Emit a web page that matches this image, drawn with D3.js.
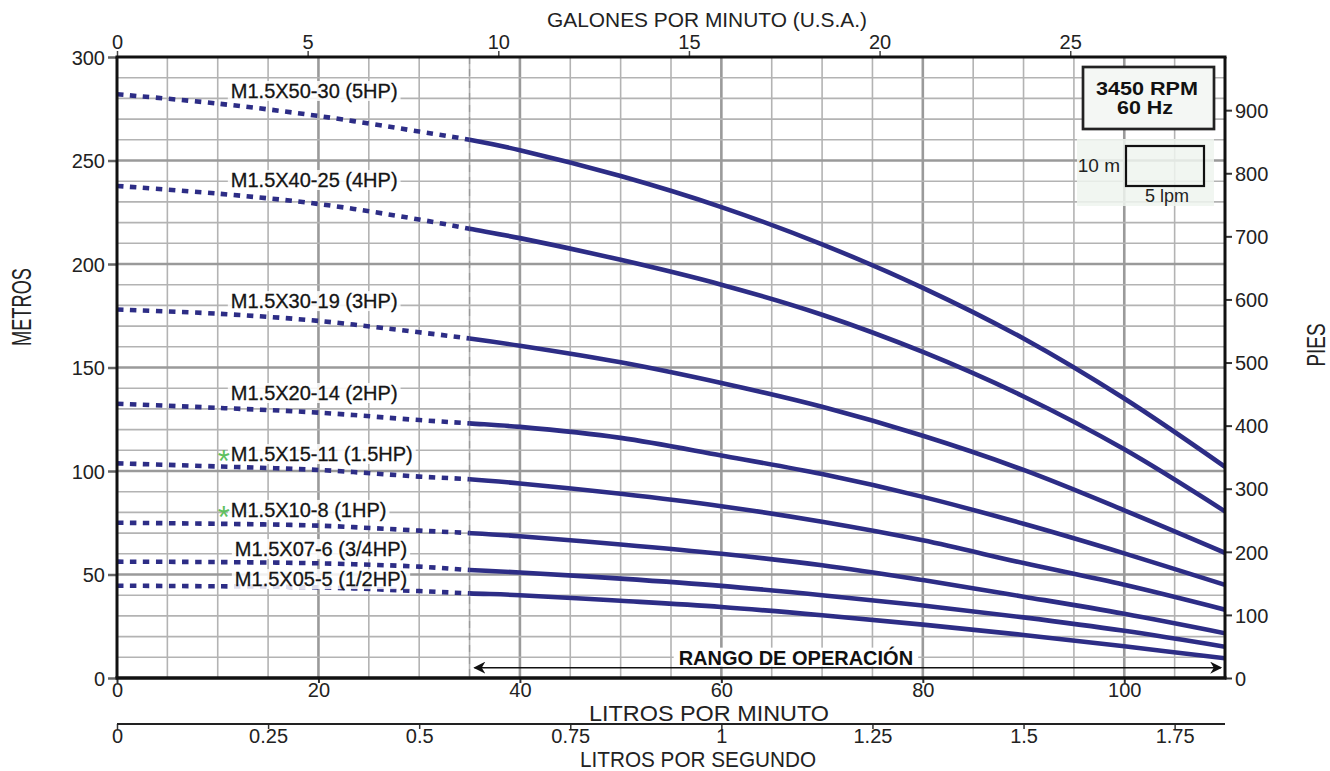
<!DOCTYPE html>
<html>
<head>
<meta charset="utf-8">
<script src="https://cdn.jsdelivr.net/npm/d3@7"></script>
<style>
  html, body { margin: 0; padding: 0; background: #fff; }
  svg { display: block; }
  text { font-family: "Liberation Sans", Arial, sans-serif; }
  .num { fill: #222; }
  .lbl { fill: #151515; stroke: #151515; stroke-width: 0.3; }
</style>
</head>
<body>
<svg id="chart" width="1330" height="771"></svg>
<script>
// ---------------- DATA ----------------
const flowLpm = [0, 10, 20, 30, 35, 40, 50, 60, 70, 80, 90, 100, 110];
const head_50_30 = [282, 277.5, 271.5, 264, 260, 255, 242.5, 227.5, 209.5, 188.5, 164, 135, 102];
const head_40_25 = [237.7, 234, 229, 221.5, 217, 212.5, 202, 190, 175.5, 157.5, 136, 110.5, 80.5];
const head_30_19 = [178, 176, 172.5, 167, 164, 160.5, 152.5, 142.5, 131, 117, 100.5, 81, 60.5];
const head_20_14 = [132.5, 130.5, 128.2, 124.6, 123, 121.3, 116, 107.5, 98.5, 87.5, 74.5, 60.2, 45];
const head_15_11 = [103.7, 102.2, 100.5, 97.3, 96, 94, 89, 83, 75.5, 66.5, 55.5, 45, 33];
const head_10_8  = [75, 74.5, 73.6, 71.2, 70, 68.5, 64.5, 60, 54.5, 47.3, 39.3, 31, 21.6];
const head_07_6  = [56.2, 56, 55.4, 53.8, 52.2, 51, 48, 44.5, 40, 35, 29.3, 22.8, 15.1];
const head_05_5  = [44.6, 44.3, 43.8, 42, 40.9, 40, 37.3, 34.3, 30.3, 25.8, 20.8, 15.3, 9.5];

const seriesNames = ["M1.5X50-30 (5HP)", "M1.5X40-25 (4HP)", "M1.5X30-19 (3HP)", "M1.5X20-14 (2HP)",
                     "M1.5X15-11 (1.5HP)", "M1.5X10-8 (1HP)", "M1.5X07-6 (3/4HP)", "M1.5X05-5 (1/2HP)"];
const seriesHeads = [head_50_30, head_40_25, head_30_19, head_20_14, head_15_11, head_10_8, head_07_6, head_05_5];
const seriesStar  = [false, false, false, false, true, true, false, false];
// label anchor positions (baseline) in data units (lpm, metres)
const labelFlow = [11.3, 11.3, 11.3, 11.3, 11.3, 11.3, 11.7, 11.7];
const labelHead = [280.2, 237.2, 178.7, 134.3, 104.8, 77.8, 58.9, 44.4];

const metreTicks = [0, 50, 100, 150, 200, 250, 300];
const feetTicks  = [0, 100, 200, 300, 400, 500, 600, 700, 800, 900];
const lpmTicks   = [0, 20, 40, 60, 80, 100];
const gpmTicks   = [0, 5, 10, 15, 20, 25];
const lpsTicks   = [0, 0.25, 0.5, 0.75, 1, 1.25, 1.5, 1.75];
const lpsLabels  = ["0", "0.25", "0.5", "0.75", "1", "1.25", "1.5", "1.75"];
const operatingStart = 35; // lpm
const flowMax = 110, headMax = 300;

// ---------------- SCALES ----------------
const svg = d3.select("#chart");
const L = 117, R = 1225, T = 57, B = 678;
const x = d3.scaleLinear().domain([0, flowMax]).range([L, R]);
const y = d3.scaleLinear().domain([0, headMax]).range([B, T]);
const xg = d3.scaleLinear().domain([0, flowMax / 3.785411784]).range([L, R]);
const xs = d3.scaleLinear().domain([0, flowMax / 60]).range([L, R]);
const yf = d3.scaleLinear().domain([0, headMax / 0.3048]).range([B, T]);

// ---------------- GRID ----------------
const grid = svg.append("g");
grid.selectAll("line.vx").data(d3.range(5, flowMax, 5)).join("line")
  .attr("x1", d => x(d)).attr("x2", d => x(d)).attr("y1", T).attr("y2", B)
  .attr("stroke", d => d % 20 === 0 ? "#9a9a9a" : "#b3b3b3")
  .attr("stroke-width", d => d % 20 === 0 ? 2.6 : 1.6);
grid.selectAll("line.hy").data(d3.range(10, headMax, 10)).join("line")
  .attr("x1", L).attr("x2", R).attr("y1", d => y(d)).attr("y2", d => y(d))
  .attr("stroke", d => d % 50 === 0 ? "#9a9a9a" : "#b3b3b3")
  .attr("stroke-width", d => d % 50 === 0 ? 2.6 : 1.6);

// operating range divider
svg.append("line").attr("x1", x(operatingStart)).attr("x2", x(operatingStart))
  .attr("y1", T).attr("y2", B).attr("stroke", "#999").attr("stroke-width", 1.3)
  .attr("stroke-dasharray", "7,5");

// ---------------- CURVES ----------------
const defs = svg.append("defs");
defs.append("clipPath").attr("id", "clipDot").append("rect")
  .attr("x", L).attr("y", 0).attr("width", x(operatingStart) - L).attr("height", 771);
defs.append("clipPath").attr("id", "clipSolid").append("rect")
  .attr("x", x(operatingStart)).attr("y", 0).attr("width", R - x(operatingStart)).attr("height", 771);

const line = d3.line().x(d => x(d[0])).y(d => y(d[1])).curve(d3.curveCatmullRom.alpha(0.5));
const curveColor = "#2d2d86";
seriesHeads.forEach(h => {
  const pts = flowLpm.map((f, i) => [f, h[i]]);
  svg.append("path").attr("d", line(pts)).attr("fill", "none")
    .attr("stroke", curveColor).attr("stroke-width", 4.6)
    .attr("stroke-dasharray", "6.5,6.5").attr("clip-path", "url(#clipDot)");
  svg.append("path").attr("d", line(pts)).attr("fill", "none")
    .attr("stroke", curveColor).attr("stroke-width", 4.6)
    .attr("clip-path", "url(#clipSolid)");
});

// ---------------- CURVE LABELS ----------------
seriesNames.forEach((name, i) => {
  const g = svg.append("g");
  const t = g.append("text").attr("class", "lbl")
    .attr("x", x(labelFlow[i])).attr("y", y(labelHead[i]))
    .attr("font-size", 20).text(name);
  const bb = t.node().getBBox();
  g.insert("rect", "text").attr("x", bb.x - 3).attr("y", bb.y + 1)
    .attr("width", bb.width + 6).attr("height", bb.height - 2)
    .attr("fill", "#fff").attr("fill-opacity", 0.85);
  if (seriesStar[i]) {
    g.append("text").attr("x", bb.x - 1).attr("y", y(labelHead[i]) + 11)
      .attr("text-anchor", "end").attr("font-size", 31)
      .attr("fill", "#5fc05f").text("*");
  }
});

// ---------------- RANGE ARROW ----------------
const arrowY = y(5);
defs.append("marker").attr("id", "ah").attr("viewBox", "0 0 10 10")
  .attr("refX", 9).attr("refY", 5).attr("markerWidth", 12).attr("markerHeight", 12)
  .attr("markerUnits", "userSpaceOnUse").attr("orient", "auto-start-reverse")
  .append("path").attr("d", "M0,0 L10,5 L0,10 L3,5 Z").attr("fill", "#111");
svg.append("line").attr("x1", x(operatingStart) + 5).attr("x2", R - 4)
  .attr("y1", arrowY).attr("y2", arrowY).attr("stroke", "#111").attr("stroke-width", 1.5)
  .attr("marker-start", "url(#ah)").attr("marker-end", "url(#ah)");
{
  const g = svg.append("g");
  const t = g.append("text").attr("x", x(67.4)).attr("y", arrowY - 3)
    .attr("text-anchor", "middle").attr("font-size", 20).attr("font-weight", "bold")
    .attr("fill", "#111").text("RANGO DE OPERACIÓN");
  const bb = t.node().getBBox();
  g.insert("rect", "text").attr("x", bb.x - 5).attr("y", bb.y + 2)
    .attr("width", bb.width + 10).attr("height", bb.height - 4).attr("fill", "#fff");
}

// ---------------- AXES ----------------
function styleAxis(g, tickColor, tickW) {
  g.select(".domain").remove();
  g.selectAll(".tick line").attr("stroke", tickColor).attr("stroke-width", tickW);
  g.selectAll(".tick text").attr("class", "num").attr("font-size", 20).attr("font-family", null).style("fill", "#222");
}
const axL = svg.append("g").attr("transform", `translate(${L},0)`)
  .call(d3.axisLeft(y).tickValues(metreTicks).tickSize(9).tickPadding(3).tickFormat(d3.format("d")));
styleAxis(axL, "#666", 2.5);
axL.selectAll(".tick text").attr("dy", "0.36em");

const axR = svg.append("g").attr("transform", `translate(${R},0)`)
  .call(d3.axisRight(yf).tickValues(feetTicks).tickSize(7).tickPadding(3).tickFormat(d3.format("d")));
styleAxis(axR, "#333", 2);
axR.selectAll(".tick text").attr("dy", "0.36em");

const axT = svg.append("g").attr("transform", `translate(0,${T})`)
  .call(d3.axisTop(xg).tickValues(gpmTicks).tickSize(6).tickPadding(2).tickFormat(d3.format("d")));
styleAxis(axT, "#444", 1.5);

const axB = svg.append("g").attr("transform", `translate(0,${B})`)
  .call(d3.axisBottom(x).tickValues(lpmTicks).tickSize(5).tickPadding(0).tickFormat(d3.format("d")));
styleAxis(axB, "#333", 2);

const lpsY = 724;
const axS = svg.append("g").attr("transform", `translate(0,${lpsY})`)
  .call(d3.axisBottom(xs).tickValues(lpsTicks).tickSize(5).tickPadding(0)
    .tickFormat((d, i) => lpsLabels[i]));
styleAxis(axS, "#333", 1.5);
axS.append("line").attr("x1", L).attr("x2", R).attr("y1", 0).attr("y2", 0)
  .attr("stroke", "#222").attr("stroke-width", 2);

// frame
svg.append("line").attr("x1", L - 1.5).attr("x2", R + 1.5).attr("y1", T).attr("y2", T).attr("stroke", "#111").attr("stroke-width", 3);
svg.append("line").attr("x1", L - 1.5).attr("x2", R + 1.5).attr("y1", B).attr("y2", B).attr("stroke", "#111").attr("stroke-width", 3.5);
svg.append("line").attr("x1", L).attr("x2", L).attr("y1", T).attr("y2", B).attr("stroke", "#111").attr("stroke-width", 3);
svg.append("line").attr("x1", R).attr("x2", R).attr("y1", T).attr("y2", B).attr("stroke", "#111").attr("stroke-width", 3);

// axis titles
function title(txt, xPos, yPos, size, len, rot) {
  const t = svg.append("text").attr("class", "num").attr("text-anchor", "middle")
    .attr("font-size", size).attr("textLength", len).attr("lengthAdjust", "spacingAndGlyphs").text(txt);
  if (rot) t.attr("transform", `translate(${xPos},${yPos}) rotate(-90)`);
  else t.attr("x", xPos).attr("y", yPos);
  return t;
}
title("GALONES POR MINUTO (U.S.A.)", 707, 27, 21, 320, false);
title("LITROS POR MINUTO", 709, 720.5, 21.5, 240, false);
title("LITROS POR SEGUNDO", 698, 767, 21.5, 236, false);
title("METROS", 31, 307, 27, 78, true);
title("PIES", 1325, 345, 26, 43, true);

// ---------------- INFO BOXES ----------------
svg.append("rect").attr("x", 1083).attr("y", 67).attr("width", 131).attr("height", 62)
  .attr("fill", "#f4f7f4").attr("stroke", "#222").attr("stroke-width", 2.7);
svg.append("text").attr("x", 1147).attr("y", 95).attr("text-anchor", "middle")
  .attr("font-weight", "bold").attr("font-size", 18.5).attr("fill", "#111")
  .attr("textLength", 102).attr("lengthAdjust", "spacingAndGlyphs").text("3450 RPM");
svg.append("text").attr("x", 1145).attr("y", 113.5).attr("text-anchor", "middle")
  .attr("font-weight", "bold").attr("font-size", 18.5).attr("fill", "#111")
  .attr("textLength", 56).attr("lengthAdjust", "spacingAndGlyphs").text("60 Hz");

svg.append("rect").attr("x", 1077).attr("y", 139).attr("width", 137).attr("height", 67)
  .attr("fill", "#eef4ee").attr("fill-opacity", 0.85);
svg.append("rect").attr("x", 1126).attr("y", 146).attr("width", 78).attr("height", 40)
  .attr("fill", "none").attr("stroke", "#111").attr("stroke-width", 2.2);
svg.append("text").attr("class", "num").attr("x", 1120).attr("y", 172).attr("text-anchor", "end")
  .attr("font-size", 19).text("10 m");
svg.append("text").attr("class", "num").attr("x", 1167).attr("y", 202).attr("text-anchor", "middle")
  .attr("font-size", 18).text("5 lpm");
</script>
</body>
</html>
